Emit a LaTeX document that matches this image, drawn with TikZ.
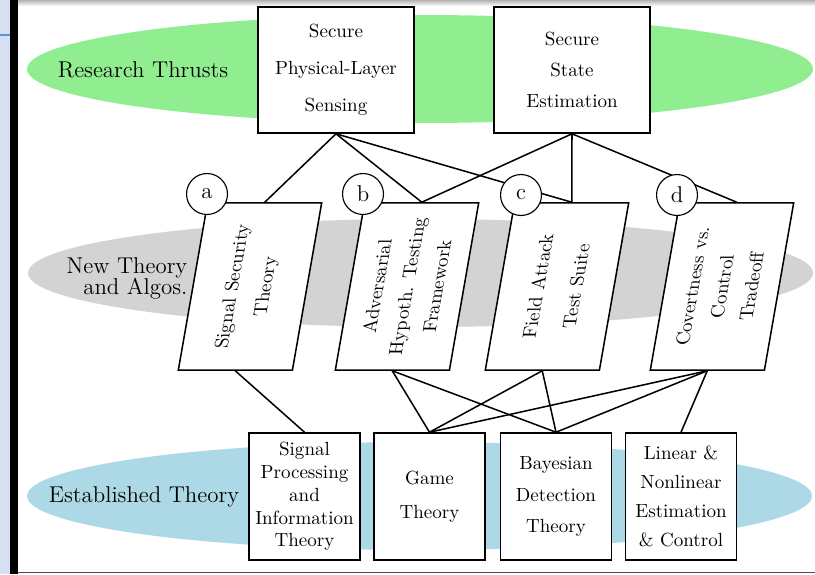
\documentclass[tikz,border=0pt]{standalone}
\usepackage{amsmath}
\usepackage{tikz}
\usetikzlibrary{positioning,shapes}
\tikzset{>=latex}

\definecolor{thrustgreen}{RGB}{144,238,144}
\definecolor{algogray}{RGB}{211,211,211}
\definecolor{basisblue}{RGB}{173,216,230}
\definecolor{edgeblue}{RGB}{214,224,242}
\definecolor{tabblue}{RGB}{96,146,214}

\tikzset{
  band/.style={font=\large, align=center},
  thrustbox/.style={draw, fill=white, align=center, minimum width=81.9pt, minimum height=66.2pt},
  newbox/.style={draw, fill=white, align=center, xslant=0.175, rotate=90, minimum width=87.7pt, minimum height=59.9pt},
  basebox/.style={draw, fill=white, align=center, inner sep=2pt, minimum width=58.3pt, minimum height=66.7pt},
  tag/.style={draw, circle, fill=white, line width=0.6pt, inner sep=0pt, minimum size=21.5pt, font=\large}
}

\begin{document}
\begin{tikzpicture}[x=0.525pt, y=-0.525pt, line width=0.8pt]
\useasboundingbox (0,0) rectangle (815,574);

% window edge
\fill[edgeblue] (0,0) rectangle (10,574);
\draw[line width=0.6pt, tabblue] (0,35) -- (10,35);
\fill[black] (10,0) rectangle (18,574);
\shade[top color=gray!60, bottom color=white] (18,0) rectangle (815,6);
\draw[line width=0.9pt, black!70] (18,572.5) -- (815,572.5);

% bands
\fill[thrustgreen] (420,69) ellipse [x radius=393, y radius=54];
\fill[algogray] (420.5,273) ellipse [x radius=392.5, y radius=54];
\fill[basisblue] (419.5,496) ellipse [x radius=392.5, y radius=54];

\node[band] (rt) at (143,70) {Research Thrusts};
\node[band, align=right] (nt) at (127,278) {New Theory\\[-3pt]and Algos.};
\node[band] (et) at (144,497) {Established Theory};

% research thrusts
\node[thrustbox] (sensing) at (336,70) {Secure\\[7.4pt]Physical-Layer\\[7.4pt]Sensing};
\node[thrustbox] (estim) at (572,70) {Secure\\[4.3pt]State\\[4.3pt]Estimation};

% new theory
\node[newbox] (sigsec) at (250,286.5) {Signal Security\\[5.3pt]Theory};
\node[newbox] (advhyp) at (407,286.5) {Adversarial\\[3.7pt]Hypoth. Testing\\[3.7pt]Framework};
\node[newbox] (attack) at (557,286.5) {Field Attack\\[8pt]Test Suite};
\node[newbox] (covert) at (722,286.5) {Covertness vs.\\[3.5pt]Control\\[3.5pt]Tradeoff};

% established theory
\node[basebox] (sigproc) at (304.5,496.5) {Signal\\Processing\\and\\Information\\Theory};
\node[basebox] (game) at (429.5,496.5) {Game\\[5.9pt]Theory};
\node[basebox] (bayes) at (556,496.5) {Bayesian\\[4.5pt]Detection\\[4.5pt]Theory};
\node[basebox] (linest) at (681,496.5) {Linear \&\\[3.2pt]Nonlinear\\[3.2pt]Estimation\\[3.2pt]\& Control};

\begin{scope}[line width=0.8pt]
\draw (sensing.south) to (sigsec.east);
\draw (sensing.south) to (advhyp.east);
\draw (sensing.south) to (attack.east);
\draw (estim.south) to (advhyp.east);
\draw (estim.south) to (attack.east);
\draw (estim.south) to (covert.east);

\draw (sigsec.west) to (sigproc.north);
\draw (advhyp.west) to (game.north);
\draw (advhyp.west) to (bayes.north);
\draw (attack.west) to (game.north);
\draw (attack.west) to (bayes.north);
\draw (covert.west) to (game.north);
\draw (covert.west) to (bayes.north);
\draw (covert.west) to (linest.north);
\end{scope}

\node[tag] (ta) at (207,194) {a};
\node[tag] (tb) at (363,194) {b};
\node[tag] (tc) at (521,195) {c};
\node[tag] (td) at (677,195) {d};

\end{tikzpicture}
\end{document}
